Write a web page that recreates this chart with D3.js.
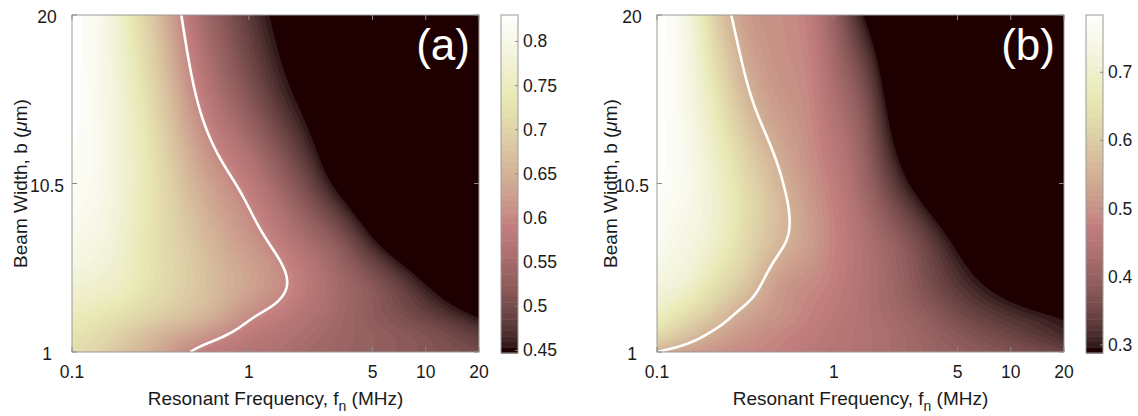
<!DOCTYPE html>
<html>
<head>
<meta charset="utf-8">
<script src="https://cdn.jsdelivr.net/npm/d3@7"></script>
<style>
  body { margin: 0; background: #fff; }
  text { font-family: "Liberation Sans", Arial, sans-serif; fill: #1a1a1a; }
</style>
</head>
<body>
<svg id="chart" width="1138" height="416"></svg>
<script>
// Data: resonant frequency (MHz) columns, beam width (um) rows
const freqs = [0.1, 0.15, 0.2, 0.3, 0.5, 0.7, 1, 1.5, 2, 3, 5, 10, 20];
const widths = [20, 15, 10.5, 7, 4.5, 3, 2, 1];

// panel (a)
const valuesA = [
    [0.83, 0.80, 0.75, 0.67, 0.565, 0.52, 0.48, 0.44, 0.415, 0.38, 0.33, 0.26, 0.19],
    [0.83, 0.80, 0.765, 0.70, 0.605, 0.56, 0.52, 0.475, 0.447, 0.41, 0.36, 0.29, 0.22],
    [0.82, 0.80, 0.77, 0.72, 0.65, 0.615, 0.585, 0.54, 0.505, 0.45, 0.39, 0.31, 0.24],
    [0.80, 0.785, 0.76, 0.72, 0.675, 0.645, 0.62, 0.59, 0.565, 0.53, 0.465, 0.39, 0.32],
    [0.77, 0.76, 0.745, 0.715, 0.68, 0.655, 0.63, 0.605, 0.585, 0.555, 0.52, 0.46, 0.40],
    [0.745, 0.73, 0.715, 0.69, 0.66, 0.635, 0.605, 0.585, 0.57, 0.55, 0.525, 0.49, 0.45],
    [0.73, 0.71, 0.69, 0.66, 0.625, 0.605, 0.585, 0.57, 0.56, 0.545, 0.53, 0.51, 0.48],
    [0.72, 0.695, 0.67, 0.64, 0.595, 0.58, 0.57, 0.56, 0.55, 0.54, 0.53, 0.515, 0.50]
];

// panel (b)
const valuesB = [
    [0.784, 0.73, 0.63, 0.525, 0.495, 0.475, 0.40, 0.29, 0.24, 0.19, 0.14, 0.08, 0.02],
    [0.784, 0.74, 0.68, 0.58, 0.51, 0.49, 0.44, 0.37, 0.29, 0.22, 0.16, 0.10, 0.04],
    [0.78, 0.75, 0.71, 0.64, 0.555, 0.51, 0.47, 0.41, 0.35, 0.275, 0.20, 0.13, 0.07],
    [0.76, 0.73, 0.70, 0.635, 0.555, 0.52, 0.48, 0.44, 0.41, 0.36, 0.288, 0.21, 0.15],
    [0.72, 0.69, 0.645, 0.585, 0.51, 0.49, 0.47, 0.44, 0.42, 0.38, 0.33, 0.275, 0.22],
    [0.68, 0.63, 0.59, 0.535, 0.50, 0.48, 0.46, 0.44, 0.425, 0.40, 0.36, 0.32, 0.29],
    [0.63, 0.58, 0.545, 0.51, 0.485, 0.47, 0.455, 0.44, 0.43, 0.41, 0.38, 0.345, 0.31],
    [0.55, 0.52, 0.505, 0.49, 0.475, 0.46, 0.45, 0.44, 0.43, 0.415, 0.395, 0.37, 0.345]
];

const xTicks = [0.1, 1, 5, 10, 20];
const yTicks = [1, 10.5, 20];
const cbTicksA = [0.45, 0.5, 0.55, 0.6, 0.65, 0.7, 0.75, 0.8];
const cbTicksB = [0.3, 0.4, 0.5, 0.6, 0.7];
const rangeA = [0.447, 0.83];
const rangeB = [0.288, 0.784];
const lineLevelA = 0.6;
const lineLevelB = 0.55;

// MATLAB "pink" colormap: sqrt((2*gray + hot)/3)
function pinkMap(t) {
    const m = 64, n = 24;
    const i = Math.max(0, Math.min(1, t)) * (m - 1);
    const r = Math.min(1, (i + 1) / n);
    const g = Math.max(0, Math.min(1, (i + 1 - n) / n));
    const b = Math.max(0, Math.min(1, (i + 1 - 2 * n) / (m - 2 * n)));
    const gr = i / (m - 1);
    const f = v => Math.round(255 * Math.sqrt((2 * gr + v) / 3));
    return `rgb(${f(r)},${f(g)},${f(b)})`;
}

// natural cubic spline through the read values (smooth surface for contouring)
function spline(xs, ys) {
    const n = xs.length, hs = [], alpha = [], l = [1], mu = [0], z = [0];
    const c = new Array(n).fill(0), b = [], d = [];
    for (let i = 0; i < n - 1; i++) hs[i] = xs[i + 1] - xs[i];
    for (let i = 1; i < n - 1; i++) {
        alpha[i] = 3 / hs[i] * (ys[i + 1] - ys[i]) - 3 / hs[i - 1] * (ys[i] - ys[i - 1]);
        l[i] = 2 * (xs[i + 1] - xs[i - 1]) - hs[i - 1] * mu[i - 1];
        mu[i] = hs[i] / l[i];
        z[i] = (alpha[i] - hs[i - 1] * z[i - 1]) / l[i];
    }
    for (let j = n - 2; j >= 0; j--) {
        c[j] = z[j] - mu[j] * c[j + 1];
        b[j] = (ys[j + 1] - ys[j]) / hs[j] - hs[j] * (c[j + 1] + 2 * c[j]) / 3;
        d[j] = (c[j + 1] - c[j]) / (3 * hs[j]);
    }
    return x => {
        let i = 0;
        while (i < n - 2 && x > xs[i + 1]) i++;
        const dx = x - xs[i];
        return ys[i] + b[i] * dx + c[i] * dx * dx + d[i] * dx * dx * dx;
    };
}

const svg = d3.select("#chart");
const plotTop = 15, w = 407, h = 337, cbH = 338;

function drawPanel(p) {
    const g = svg.append("g").attr("transform", `translate(${p.left},${plotTop})`);

    const x = d3.scaleLog().domain([0.1, 20]).range([0, w]);
    const y = d3.scaleLinear().domain([1, 20]).range([h, 0]);
    const color = d3.scaleSequential(pinkMap).domain(p.range).clamp(true);

    // sample the field on a pixel grid
    const logF = freqs.map(Math.log10);
    const rowFns = p.values.map(row => spline(logF, row));
    const wAsc = widths.slice().reverse();
    const grid = new Float64Array(w * h);
    for (let i = 0; i < w; i++) {
        const lf = Math.log10(x.invert(i + 0.5));
        const col = rowFns.map(fn => fn(lf)).reverse();
        const colFn = spline(wAsc, col);
        for (let j = 0; j < h; j++) {
            grid[j * w + i] = colFn(y.invert(j + 0.5));
        }
    }

    const clipId = "clip" + p.name;
    g.append("clipPath").attr("id", clipId)
        .append("rect").attr("width", w).attr("height", h);
    const plot = g.append("g").attr("clip-path", `url(#${clipId})`);

    // filled contours
    const nLevels = 60;
    const step = (p.range[1] - p.range[0]) / nLevels;
    const levels = d3.range(1, nLevels).map(k => p.range[0] + k * step);
    plot.append("rect").attr("width", w).attr("height", h).attr("fill", color(p.range[0]));
    const contours = d3.contours().size([w, h]).thresholds(levels)(grid);
    plot.selectAll("path.band")
        .data(contours)
        .join("path")
        .attr("class", "band")
        .attr("d", d3.geoPath())
        .attr("fill", d => color(d.value))
        .attr("stroke", d => color(d.value))
        .attr("stroke-width", 0.6);

    // white contour line (drop the segments that run along the frame)
    const iso = d3.contours().size([w, h]).thresholds([p.lineLevel])(grid)[0];
    const edge = (a, b) => (a[0] === 0 && b[0] === 0) || (a[0] === w && b[0] === w) ||
        (a[1] === 0 && b[1] === 0) || (a[1] === h && b[1] === h);
    const lines = [];
    iso.coordinates.forEach(poly => poly.forEach(ring => {
        const n = ring.length - 1;
        let start = -1;
        for (let k = 0; k < n; k++) if (edge(ring[k], ring[k + 1])) { start = k + 1; break; }
        if (start < 0) { lines.push(ring); return; }
        let cur = [ring[start % n]];
        for (let s = 0; s < n; s++) {
            const a = ring[(start + s) % n], b = ring[(start + s + 1) % n];
            if (edge(a, b)) {
                if (cur.length > 1) lines.push(cur);
                cur = [b];
            } else cur.push(b);
        }
        if (cur.length > 1) lines.push(cur);
    }));
    plot.selectAll("path.iso")
        .data(lines)
        .join("path")
        .attr("class", "iso")
        .attr("d", d3.line())
        .attr("fill", "none")
        .attr("stroke", "#fff")
        .attr("stroke-width", 2.6)
        .attr("stroke-linejoin", "round");

    // frame and inward ticks
    g.append("rect").attr("width", w).attr("height", h)
        .attr("fill", "none").attr("stroke", "#9a9a9a").attr("stroke-width", 1);
    xTicks.forEach(t => {
        g.append("line").attr("x1", x(t)).attr("x2", x(t)).attr("y1", h).attr("y2", h - 5)
            .attr("stroke", "#8a8a8a");
        g.append("line").attr("x1", x(t)).attr("x2", x(t)).attr("y1", 0).attr("y2", 5)
            .attr("stroke", "#8a8a8a");
        g.append("text").attr("x", x(t)).attr("y", h + 26)
            .attr("text-anchor", "middle").style("font-size", "17.5px").text(t);
    });
    yTicks.forEach(t => {
        g.append("line").attr("x1", 0).attr("x2", 5).attr("y1", y(t)).attr("y2", y(t))
            .attr("stroke", "#8a8a8a");
        g.append("line").attr("x1", w).attr("x2", w - 5).attr("y1", y(t)).attr("y2", y(t))
            .attr("stroke", "#8a8a8a");
        g.append("text").attr("x", -25).attr("y", y(t) + 8)
            .attr("text-anchor", "middle").style("font-size", "17.5px").text(t);
    });

    // panel label
    g.append("text").attr("x", w - 9).attr("y", 45)
        .attr("text-anchor", "end").style("font-size", "44px").style("fill", "#fff")
        .text(p.label);

    // axis titles
    const xt = g.append("text").attr("x", w / 2).attr("y", 390)
        .attr("text-anchor", "middle").style("font-size", "19px");
    xt.append("tspan").text("Resonant Frequency, f");
    xt.append("tspan").attr("dy", 6).style("font-size", "14px").text("n");
    xt.append("tspan").attr("dy", -6).text(" (MHz)");

    const yt = g.append("text").attr("transform", `translate(${p.titleX},${h / 2}) rotate(-90)`)
        .attr("text-anchor", "middle").style("font-size", "19px");
    yt.append("tspan").text("Beam Width, b (");
    yt.append("tspan").style("font-style", "italic").text("\u03bc");
    yt.append("tspan").text("m)");

    // colorbar
    const cb = g.append("g").attr("transform", `translate(${w + 22},0)`);
    const cy = d3.scaleLinear().domain(p.range).range([cbH, 0]);
    const bands = d3.range(nLevels).map(k => p.range[0] + k * step);
    cb.selectAll("rect.cbband")
        .data(bands)
        .join("rect")
        .attr("class", "cbband")
        .attr("x", 0).attr("width", 17)
        .attr("y", d => cy(d + step))
        .attr("height", d => cy(d) - cy(d + step) + 0.5)
        .attr("fill", d => color(d));
    cb.append("rect").attr("width", 17).attr("height", cbH)
        .attr("fill", "none").attr("stroke", "#9a9a9a");
    p.cbTicks.forEach(t => {
        cb.append("line").attr("x1", 17).attr("x2", 14).attr("y1", cy(t)).attr("y2", cy(t))
            .attr("stroke", "#8a8a8a");
        cb.append("text").attr("x", 22).attr("y", cy(t) + 6)
            .style("font-size", "17.5px").text(t);
    });
}

drawPanel({ name: "a", left: 72, values: valuesA, range: rangeA, lineLevel: lineLevelA,
    cbTicks: cbTicksA, label: "(a)", titleX: -45 });
drawPanel({ name: "b", left: 657, values: valuesB, range: rangeB, lineLevel: lineLevelB,
    cbTicks: cbTicksB, label: "(b)", titleX: -40 });
</script>
</body>
</html>
